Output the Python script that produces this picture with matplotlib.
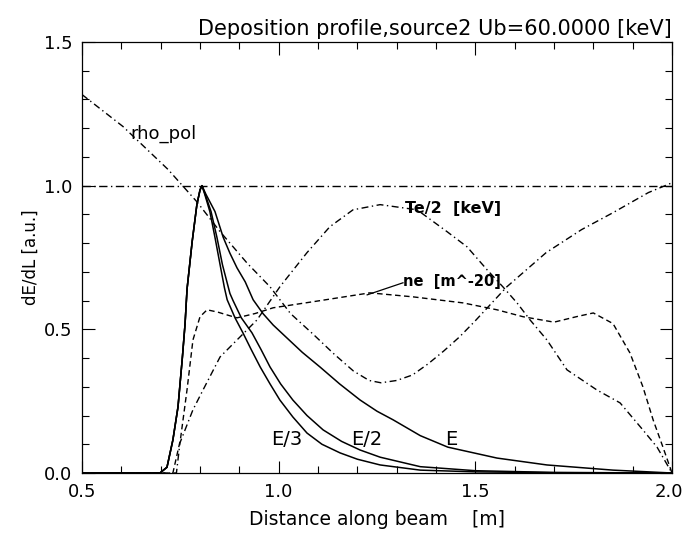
import numpy as np
import matplotlib.pyplot as plt
from matplotlib.ticker import MultipleLocator, FuncFormatter

# posicion a lo largo del haz [m] y perfiles leidos
# subida comun de dE/dL (las tres energias)
sube_x = [0.5, 0.698, 0.716, 0.731, 0.744, 0.755, 0.762, 0.767, 0.78, 0.792, 0.8, 0.805]
sube_y = [0.0, 0.0, 0.02, 0.115, 0.23, 0.40, 0.52, 0.64, 0.805, 0.934, 0.985, 1.0]

# bajada de dE/dL para E, E/2, E/3
e1_x = [0.805, 0.815, 0.838, 0.859, 0.876, 0.894, 0.915, 0.935, 0.96, 0.986, 1.021, 1.06, 1.105, 1.155,
        1.207, 1.25, 1.291, 1.36, 1.43, 1.555, 1.682, 1.85, 2.0]
e1_y = [1.0, 0.97, 0.91, 0.82, 0.765, 0.714, 0.665, 0.603, 0.555, 0.515, 0.47, 0.42, 0.369, 0.31,
        0.254, 0.215, 0.185, 0.13, 0.09, 0.052, 0.028, 0.01, 0.0]
e2_x = [0.805, 0.813, 0.828, 0.843, 0.857, 0.876, 0.884, 0.905, 0.932, 0.955, 0.978, 1.005, 1.036, 1.072,
        1.113, 1.16, 1.207, 1.258, 1.36, 1.5, 1.7, 2.0]
e2_y = [1.0, 0.97, 0.91, 0.82, 0.725, 0.625, 0.60, 0.54, 0.488, 0.43, 0.369, 0.31, 0.254, 0.20,
        0.15, 0.11, 0.08, 0.055, 0.022, 0.008, 0.002, 0.0]
e3_x = [0.805, 0.812, 0.825, 0.838, 0.851, 0.862, 0.869, 0.889, 0.909, 0.93, 0.953, 0.978, 1.003, 1.036,
        1.072, 1.11, 1.156, 1.2, 1.258, 1.36, 1.5, 1.7, 2.0]
e3_y = [1.0, 0.97, 0.91, 0.82, 0.725, 0.645, 0.603, 0.54, 0.488, 0.43, 0.369, 0.31, 0.254, 0.195,
        0.139, 0.10, 0.07, 0.048, 0.028, 0.01, 0.004, 0.001, 0.0]

# rho_pol
rho_x = [0.5, 0.604, 0.719, 0.792, 0.851, 0.92, 0.978, 1.03, 1.09, 1.14, 1.19, 1.23, 1.26, 1.30, 1.34,
         1.38, 1.42, 1.46, 1.50, 1.58, 1.68, 1.77, 1.85, 1.94, 2.0]
rho_y = [1.317, 1.206, 1.056, 0.944, 0.84, 0.73, 0.648, 0.555, 0.48, 0.415, 0.355, 0.322, 0.314, 0.322, 0.341,
         0.38, 0.425, 0.474, 0.53, 0.648, 0.767, 0.847, 0.906, 0.976, 1.01]

# Te/2 [keV]
te_x = [0.5, 0.74, 0.749, 0.782, 0.808, 0.851, 0.902, 0.945, 1.003, 1.072, 1.13, 1.189, 1.258, 1.352, 1.428,
        1.479, 1.53, 1.57, 1.606, 1.639, 1.682, 1.733, 1.809, 1.868, 1.926, 1.962, 2.0]
te_y = [0.0, 0.0, 0.105, 0.22, 0.29, 0.404, 0.474, 0.533, 0.648, 0.767, 0.857, 0.916, 0.934, 0.916, 0.84,
        0.787, 0.707, 0.648, 0.592, 0.533, 0.463, 0.359, 0.289, 0.244, 0.15, 0.09, 0.0]

# ne [m^-20]
ne_x = [0.5, 0.731, 0.75, 0.767, 0.782, 0.8, 0.818, 0.845, 0.869, 0.894, 0.94, 0.986, 1.087, 1.232, 1.342,
        1.469, 1.555, 1.621, 1.70, 1.76, 1.80, 1.85, 1.893, 1.926, 1.952, 1.977, 2.0]
ne_y = [0.0, 0.0, 0.115, 0.29, 0.463, 0.544, 0.568, 0.56, 0.55, 0.54, 0.555, 0.575, 0.596, 0.627, 0.613,
        0.592, 0.568, 0.544, 0.525, 0.545, 0.557, 0.52, 0.418, 0.30, 0.185, 0.09, 0.0]

plt.rcParams['font.family'] = 'DejaVu Sans'

fig = plt.figure(figsize=(6.83, 5.42), dpi=100)
ax = fig.add_axes([0.1201, 0.1273, 0.8638, 0.7952])

# curvas de deposicion
for bx, by in [(e1_x, e1_y), (e2_x, e2_y), (e3_x, e3_y)]:
    ax.plot(sube_x + bx[1:], sube_y + by[1:], color='black', linewidth=1.1)

guion_punto = (0, (5, 2.5, 1, 2.5))
ax.axhline(1.0, color='black', linewidth=1.0, linestyle=(0, (6, 2.5, 1, 2.5)))
ax.plot(rho_x, rho_y, color='black', linewidth=1.0, linestyle=guion_punto)
ax.plot(te_x, te_y, color='black', linewidth=1.0, linestyle=guion_punto)
ax.plot(ne_x, ne_y, color='black', linewidth=1.0, linestyle=(0, (4, 2.5)))

# textos
ax.text(0.708, 1.181, 'rho_pol', fontsize=13, ha='center', va='center')
ax.text(1.444, 0.92, 'Te/2  [keV]', fontsize=11.5, fontweight='bold', ha='center', va='center')
ax.text(1.441, 0.666, 'ne  [m^-20]', fontsize=10.5, fontweight='bold', ha='center', va='center')
ax.plot([1.225, 1.316], [0.62, 0.662], color='black', linewidth=0.9)
ax.text(1.021, 0.118, 'E/3', fontsize=14, ha='center', va='center')
ax.text(1.225, 0.118, 'E/2', fontsize=14, ha='center', va='center')
ax.text(1.438, 0.118, 'E', fontsize=14, ha='center', va='center')

ax.set_xlim(0.5, 2.0)
ax.set_ylim(0.0, 1.5)
ax.xaxis.set_major_locator(MultipleLocator(0.5))
ax.xaxis.set_minor_locator(MultipleLocator(0.1))
ax.yaxis.set_major_locator(MultipleLocator(0.5))
ax.yaxis.set_minor_locator(MultipleLocator(0.1))
# el rotulo 2.0 va aparte, pegado al borde derecho
ax.xaxis.set_major_formatter(FuncFormatter(lambda v, p: '' if v > 1.99 else '%.1f' % v))
ax.yaxis.set_major_formatter(plt.FormatStrFormatter('%.1f'))
ax.tick_params(which='both', direction='in', top=True, right=True, labelsize=13, width=0.8)
ax.tick_params(which='major', length=9, pad=7)
ax.tick_params(which='minor', length=5)
for s in ax.spines.values():
    s.set_linewidth(0.9)
ax.annotate('2.0', xy=(2.0, 0), xycoords=('data', 'axes fraction'), xytext=(8, -7),
            textcoords='offset points', ha='right', va='top', fontsize=13, annotation_clip=False)

ax.set_title('Deposition profile,source2 Ub=60.0000 [keV]', loc='right', fontsize=15, pad=5)
ax.set_xlabel('Distance along beam    [m]', fontsize=13.5, labelpad=7)
ax.set_ylabel('dE/dL [a.u.]', fontsize=12, labelpad=3)

fig.savefig('out.png', dpi=100)
